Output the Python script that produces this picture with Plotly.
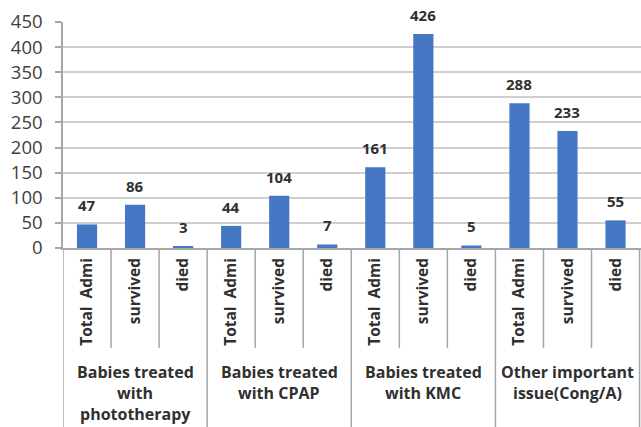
import plotly.graph_objects as go

# Outcome counts per treatment group
group_lines = [
    ["Babies treated", "with", "phototherapy"],
    ["Babies treated", "with CPAP"],
    ["Babies treated", "with KMC"],
    ["Other important", "issue(Cong/A)"],
]
measures = ["Total  Admi", "survived", "died"]
values = [47, 86, 3, 44, 104, 7, 161, 426, 5, 288, 233, 55]
y_ticks = [0, 50, 100, 150, 200, 250, 300, 350, 400, 450]

W, H = 641, 427
ML, MR, MT, MB = 63, 0, 22, 179
plot_h = H - MT - MB

n_meas = len(measures)
xs = list(range(len(values)))
tick_text = measures * len(group_lines)

BAR = "#4677c4"
GRID = "#cfcfcf"
AXIS = "#a6a6a6"
TXT = "#303030"
FONT = "Open Sans"

fig = go.Figure(
    go.Bar(
        x=xs,
        y=values,
        marker=dict(color=BAR, line=dict(width=0)),
        width=0.42,
        hoverinfo="skip",
    )
)

# value labels above each bar
for x, v in zip(xs, values):
    fig.add_annotation(
        x=x, y=v, xref="x", yref="y",
        text=str(v), showarrow=False,
        yanchor="middle", yshift=19,
        font=dict(family=FONT, size=15, color=TXT, weight="bold"),
    )

def px_to_paper(px_below_axis):
    return -px_below_axis / plot_h

# short separators between measures inside a group
for g in range(len(group_lines)):
    for k in range(1, n_meas):
        xb = g * n_meas + k - 0.5
        fig.add_shape(type="line", xref="x", yref="paper",
                      x0=xb, x1=xb, y0=0, y1=px_to_paper(100),
                      line=dict(color=AXIS, width=1.5))

# long separators between groups
for g in range(len(group_lines) + 1):
    xb = g * n_meas - 0.5
    fig.add_shape(type="line", xref="x", yref="paper",
                  x0=xb, x1=xb, y0=0, y1=px_to_paper(MB),
                  line=dict(color=AXIS, width=1.5))

# group names under the measure labels
line_offsets = [124, 145, 166]
for g, lines in enumerate(group_lines):
    xc = g * n_meas + (n_meas - 1) / 2
    for i, ln in enumerate(lines):
        fig.add_annotation(
            x=xc, y=0, xref="x", yref="paper",
            text=ln, showarrow=False,
            yanchor="middle", yshift=-line_offsets[i],
            font=dict(family=FONT, size=16, color=TXT, weight="bold"),
        )

fig.update_layout(
    width=W, height=H,
    margin=dict(l=ML, r=MR, t=MT, b=MB, pad=0),
    paper_bgcolor="white",
    plot_bgcolor="white",
    showlegend=False,
    bargap=0.58,
)

fig.update_xaxes(
    range=[-0.5, len(values) - 0.47],
    tickmode="array",
    tickvals=xs,
    ticktext=tick_text,
    tickangle=-90,
    tickfont=dict(family=FONT, size=15.5, color=TXT, weight="bold"),
    ticks="",
    ticklabelstandoff=2,
    showgrid=False,
    showline=True,
    linecolor=AXIS,
    linewidth=1.5,
    zeroline=False,
    fixedrange=True,
)

fig.update_yaxes(
    range=[0, 450],
    tickmode="array",
    tickvals=y_ticks,
    tickfont=dict(family=FONT, size=18.5, color="#404040"),
    ticks="outside",
    ticklen=6,
    tickcolor=AXIS,
    tickwidth=1.5,
    ticklabelstandoff=9,
    showgrid=True,
    gridcolor=GRID,
    gridwidth=1.5,
    showline=True,
    linecolor=AXIS,
    linewidth=1.5,
    zeroline=False,
    fixedrange=True,
)

fig.write_html("out.html")
